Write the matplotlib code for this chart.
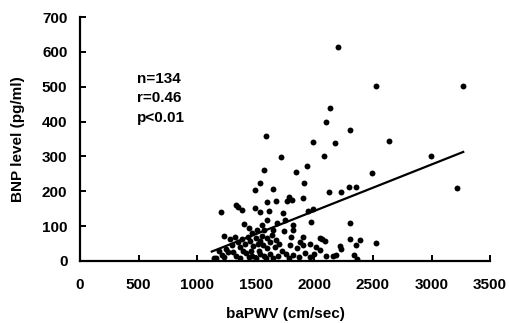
import numpy as np
import matplotlib
matplotlib.use("Agg")
import matplotlib.pyplot as plt

plt.rcParams['font.family'] = ['Liberation Sans', 'DejaVu Sans']

# baPWV (cm/sec) and BNP (pg/ml)
bapwv = [2200, 2530, 3272, 2137, 2097, 2305, 1588, 2638, 2175, 1992,
         2080, 2994, 1713, 1570, 1844, 2495, 1941, 3216, 1537, 1915,
         1494, 1645, 2125, 2228, 2298, 2354, 1787, 1807, 1770, 1901,
         1599, 1673, 1329, 1352, 1380, 1494, 1204, 1540, 1616, 1736,
         1949, 1992, 1970, 1599, 1750, 2305, 1551, 1821, 1571, 1650,
         1821, 1232, 1323, 1599, 1673, 1799, 1906, 2049, 2063, 2090,
         2305, 2393, 1537, 2356, 2222, 2230, 2530, 1793, 1906, 1850,
         1594, 1664, 2049, 2103, 2155, 2184, 2340, 1266, 1209, 1350,
         1380, 1410, 1430, 1450, 1470, 1480, 1500, 1510, 1520, 1395,
         1420, 1460, 1530, 1550, 1440, 1365, 1300, 1280, 1560, 1620,
         1640, 1700, 1720, 1760, 1690, 1230, 1160, 1140, 1330, 1370,
         1440, 1500, 1570, 1620, 1650, 1780, 1820, 1870, 1920, 1960,
         2000, 1880, 1960, 2010, 1740, 1680, 1400, 1250, 2360, 1190,
         1590, 1310, 1470, 1535]
bnp = [613, 502, 502, 438, 399, 375, 358, 344, 340, 342,
       301, 301, 299, 261, 254, 252, 273, 209, 223, 223,
       204, 206, 198, 198, 211, 211, 184, 175, 173, 180,
       170, 173, 161, 156, 146, 151, 141, 141, 144, 139,
       144, 148, 113, 118, 118, 110, 103, 103, 89, 89,
       89, 72, 70, 65, 60, 70, 70, 65, 62, 58,
       62, 60, 57, 46, 44, 33, 51, 46, 46, 36,
       36, 40, 32, 13, 13, 16, 17, 27, 17, 55,
       62, 48, 70, 58, 80, 42, 65, 90, 50, 30,
       22, 28, 30, 72, 95, 40, 45, 62, 45, 55,
       75, 50, 28, 20, 15, 12, 8, 10, 14, 8,
       12, 10, 14, 20, 8, 10, 18, 12, 22, 12,
       20, 55, 50, 40, 85, 110, 105, 35, 5, 30,
       8, 25, 15, 20]

# regression line end points
fit_x = [1125, 3270]
fit_y = [27, 313]

stats_text = "n=134\nr=0.46\np<0.01"

fig = plt.figure(figsize=(5.09, 3.23), dpi=100)
ax = fig.add_axes([0.157, 0.192, 0.806, 0.755])

ax.scatter(bapwv, bnp, s=18, color='black', linewidths=0, zorder=3)
ax.plot(fit_x, fit_y, color='black', lw=1.6)

ax.set_xlim(0, 3500)
ax.set_ylim(0, 700)
ax.set_xticks(np.arange(0, 3501, 500))
ax.set_yticks(np.arange(0, 701, 100))

for s in ['top', 'right']:
    ax.spines[s].set_visible(False)
for s in ['left', 'bottom']:
    ax.spines[s].set_linewidth(1.6)

ax.tick_params(direction='in', length=4, width=1.4, labelsize=11)
ax.tick_params(axis='x', pad=12)
ax.tick_params(axis='y', pad=9)
for lab in ax.get_xticklabels() + ax.get_yticklabels():
    lab.set_fontweight('bold')

ax.set_xlabel("baPWV (cm/sec)", fontsize=11, fontweight='bold', labelpad=11)
ax.set_ylabel("BNP level (pg/ml)", fontsize=11, fontweight='bold', labelpad=12)

ax.text(0.139, 0.775, stats_text, transform=ax.transAxes, fontsize=11,
        fontweight='bold', va='top', ha='left', linespacing=1.5)

plt.savefig("out.png", dpi=100)
